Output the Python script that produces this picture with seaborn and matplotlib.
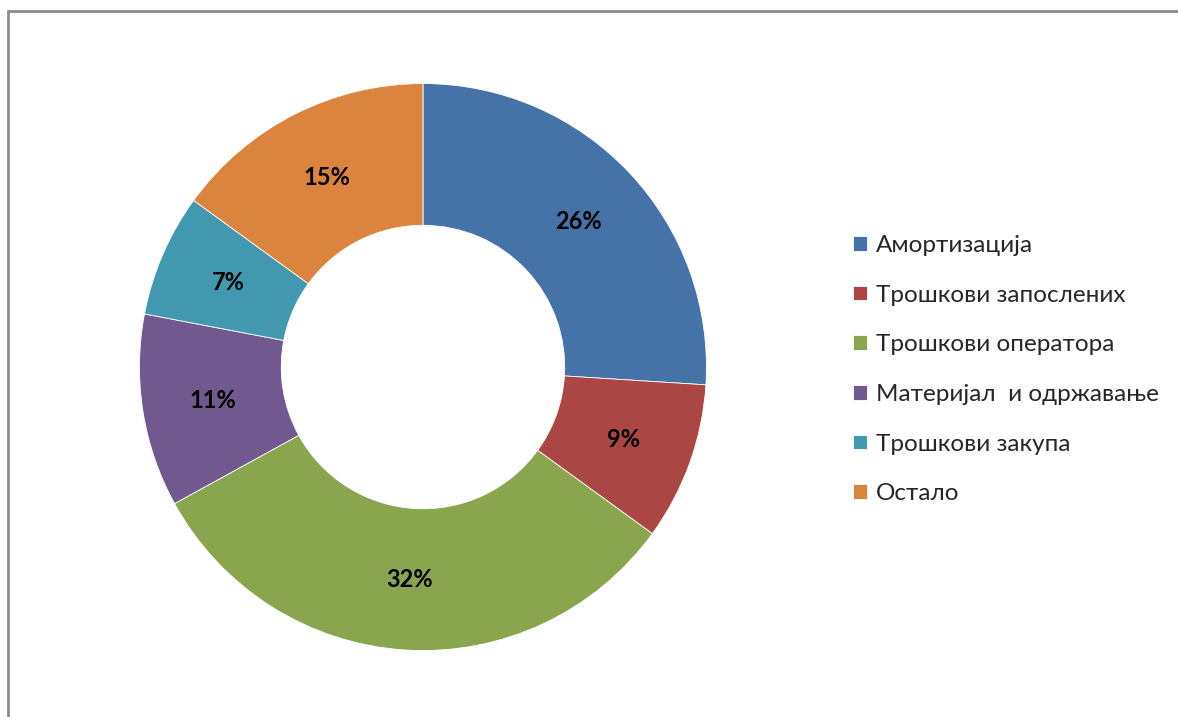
import matplotlib
matplotlib.use("Agg")
import matplotlib.pyplot as plt
import seaborn as sns
from matplotlib.lines import Line2D

# === Data ===
categories = ["Амортизација", "Трошкови запослених", "Трошкови оператора",
              "Материјал  и одржавање", "Трошкови закупа", "Остало"]
shares = [26, 9, 32, 11, 7, 15]
colors = ["#4572A7", "#AA4643", "#89A54E", "#71588F", "#4198AF", "#DB843D"]

sns.set_theme(style="white")
plt.rcParams["font.family"] = ["Lato", "DejaVu Sans"]
palette = sns.color_palette(colors)

fig = plt.figure(figsize=(11.78, 7.17), dpi=100)
fig.patch.set_facecolor("white")

# donut axes: centre ~ (423, 367) px, radius ~ 284 px
ax = fig.add_axes([0.1184, 0.0927, 0.4813, 0.7908])
wedges, texts = ax.pie(
    shares,
    colors=palette,
    startangle=90,
    counterclock=False,
    radius=1.0,
    labels=[f"{v}%" for v in shares],
    labeldistance=0.75,
    wedgeprops=dict(width=0.5, edgecolor="white", linewidth=0.6),
    textprops=dict(fontsize=17, fontweight="bold", color="black",
                   ha="center", va="center"),
)
ax.set_xlim(-1, 1)
ax.set_ylim(-1, 1)
ax.set_aspect("equal")
ax.axis("off")

# legend on the right
fig.legend(wedges, categories, loc="upper left",
           bbox_to_anchor=(0.716, 0.686), frameon=False,
           fontsize=17.5, handlelength=0.55, handleheight=0.55,
           handletextpad=0.4, labelspacing=1.18, borderaxespad=0)

# chart-area border (top and left edges visible)
fig.add_artist(Line2D([0.0065, 0.0065], [0.0, 0.985], color="#8c8c8c", lw=2,
                      transform=fig.transFigure))
fig.add_artist(Line2D([0.0065, 1.0], [0.985, 0.985], color="#8c8c8c", lw=2,
                      transform=fig.transFigure))

fig.savefig("out.png", dpi=100, facecolor="white")
